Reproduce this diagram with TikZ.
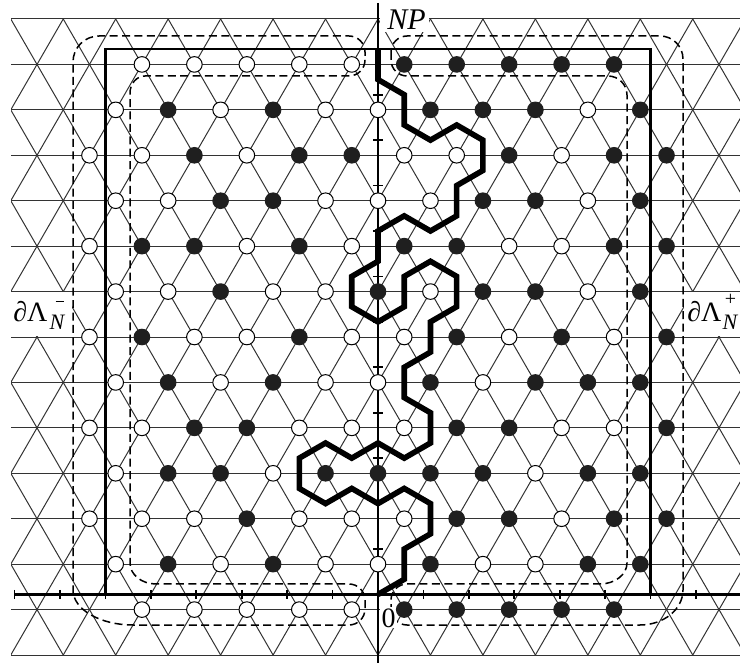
\documentclass[tikz,border=0pt]{standalone}
\usepackage{fontspec}
\setmainfont{Liberation Serif}
\begin{document}
\begin{tikzpicture}[x=0.5pt,y=-0.5pt,
  latt/.style={line width=0.5pt, black!80},
  dashbound/.style={line width=0.75pt, dash pattern=on 4pt off 2.2pt},
  framel/.style={line width=1.2pt},
  axisline/.style={line width=0.85pt},
  tickmark/.style={line width=0.85pt},
  vO/.style={circle, draw=black, line width=0.5pt, fill=white, minimum size=7.8pt, inner sep=0pt},
  vF/.style={circle, draw=black!88, fill=black!88, line width=0.5pt, minimum size=7.8pt, inner sep=0pt},
  cpath/.style={line width=2.8pt, line join=miter},
  lab/.style={inner sep=0pt, font=\fontsize{14}{14}\selectfont}
]
\useasboundingbox (0,0) rectangle (740,663);

% triangular lattice
\begin{scope}
  \clip (11,0) rectangle (740,663);
  \foreach \r in {0,...,14}
    \draw[latt] (0,{19+\r*45.43}) -- (740,{19+\r*45.43});
  \foreach \m in {-28,-26,...,12}
    \draw[latt] ({378+\m*26.23},19) -- ({378+(\m+14)*26.23},655.02);
  \foreach \m in {-14,-12,...,26}
    \draw[latt] ({378+\m*26.23},19) -- ({378+(\m-14)*26.23},655.02);
\end{scope}

% white areas behind labels
\fill[white] (0,292.3) rectangle (72,336.3);
\fill[white] (684,292.3) rectangle (740,336.3);
\fill[white] (379.5,0) rectangle (429,32);

% dashed boundaries
\draw[dashbound] (365,56) -- (365,52)
  .. controls (365,43.2) and (357.8,36) .. (349,36) -- (99,36)
  .. controls (84.6,36) and (73,47.6) .. (73,62) -- (73,590)
  .. controls (73,609.3) and (99.9,625) .. (133,625) -- (349,625)
  .. controls (357.8,625) and (365,617.8) .. (365,609) -- (365,600)
  .. controls (365,591.2) and (357.8,584) .. (349,584) -- (156,584)
  .. controls (141.6,584) and (130,574.6) .. (130,563) -- (130,93)
  .. controls (130,83.6) and (136.7,76) .. (145,76) -- (349,76)
  .. controls (357.8,76) and (365,68.8) .. (365,60) -- cycle;
\draw[dashbound] (391,56) -- (391,52)
  .. controls (391,43.2) and (398.2,36) .. (407,36) -- (660,36)
  .. controls (672.7,36) and (683,46.3) .. (683,59) -- (683,590)
  .. controls (683,609.3) and (663.7,625) .. (640,625) -- (407,625)
  .. controls (398.2,625) and (391,617.8) .. (391,609) -- (391,600)
  .. controls (391,591.2) and (398.2,584) .. (407,584) -- (600,584)
  .. controls (614.9,584) and (627,574.6) .. (627,563) -- (627,95)
  .. controls (627,84.5) and (618.5,76) .. (608,76) -- (407,76)
  .. controls (398.2,76) and (391,68.8) .. (391,60) -- cycle;

% frame and axes
\draw[framel] (105.42,49.29) rectangle (650.58,594.45);
\draw[framel] (14.6,594.45) -- (740,594.45);
\draw[axisline] (378,3) -- (378,663);
\foreach \j in {1,...,11}
  \draw[tickmark] (373,{49.29+\j*45.43}) -- (383,{49.29+\j*45.43});
\foreach \m in {-8,...,-1,1,2,...,7}
  \draw[tickmark] ({378+\m*45.43},590) -- ({378+\m*45.43},599);

% origin label
\node[lab, anchor=base west, fill=white, inner sep=0.6pt] (zero) at (380,627) {0};

% sites
\foreach \r/\cs/\lst in {
  1/-9/{O,O,O,O,O,F,F,F,F,F},
  2/-10/{O,F,O,F,O,O,F,F,F,O,F},
  3/-11/{O,O,F,O,F,F,O,O,F,O,F,F},
  4/-10/{O,O,F,F,O,O,O,F,F,O,F},
  5/-11/{O,F,F,O,F,O,F,F,O,O,F,F},
  6/-10/{O,O,F,O,O,F,O,F,F,O,F},
  7/-11/{O,F,O,O,F,O,O,F,O,F,O,F},
  8/-10/{O,F,O,F,O,O,F,O,F,F,F},
  9/-11/{O,O,F,F,O,O,O,F,F,O,O,F},
  10/-10/{O,F,F,O,F,F,F,F,O,F,F},
  11/-11/{O,O,O,F,O,O,O,F,F,O,F,F},
  12/-10/{O,F,O,F,O,O,F,O,O,F,F},
  13/-9/{O,O,O,O,O,F,F,F,F,F}}{
  \foreach \t [count=\i from 0] in \lst {
    \node[v\t] (s\r x\i) at ({378+(\cs+2*\i)*26.23},{19+\r*45.43}) {};
  }
}

% interface path on the hexagonal lattice
\foreach \c/\k [count=\i] in {0/2,0/4,1/5,1/7,2/8,3/7,4/8,4/10,3/11,3/13,2/14,1/13,0/14,0/16,
  -1/17,-1/19,0/20,1/19,1/17,2/16,3/17,3/19,2/20,2/22,1/23,1/25,2/26,2/28,1/29,0/28,
  -1/29,-2/28,-3/29,-3/31,-2/32,-1/31,0/32,1/31,2/32,2/34,1/35,1/37,0/38}
  \coordinate (p\i) at ({378+\c*26.23},{19+\k*15.1433});
\draw[cpath] (p1) \foreach \i in {2,...,43} { -- (p\i) };

% labels
\node[lab, anchor=base west, font=\fontsize{15}{15}\selectfont\itshape] (np) at (387,30) {NP};
\node[lab, anchor=base west] (lminus) at (13,322)
  {∂Λ\kern1pt\rlap{\raisebox{-4pt}{\fontsize{11}{11}\selectfont\itshape N}}\raisebox{10pt}{\kern3pt\rule{4pt}{0.6pt}}};
\node[lab, anchor=base west] (lplus) at (687,322)
  {∂Λ\kern0.5pt\rlap{\raisebox{-4pt}{\fontsize{11}{11}\selectfont\itshape N}}\raisebox{8pt}{\kern1.2pt\fontsize{10}{10}\selectfont +}};
\end{tikzpicture}
\end{document}
